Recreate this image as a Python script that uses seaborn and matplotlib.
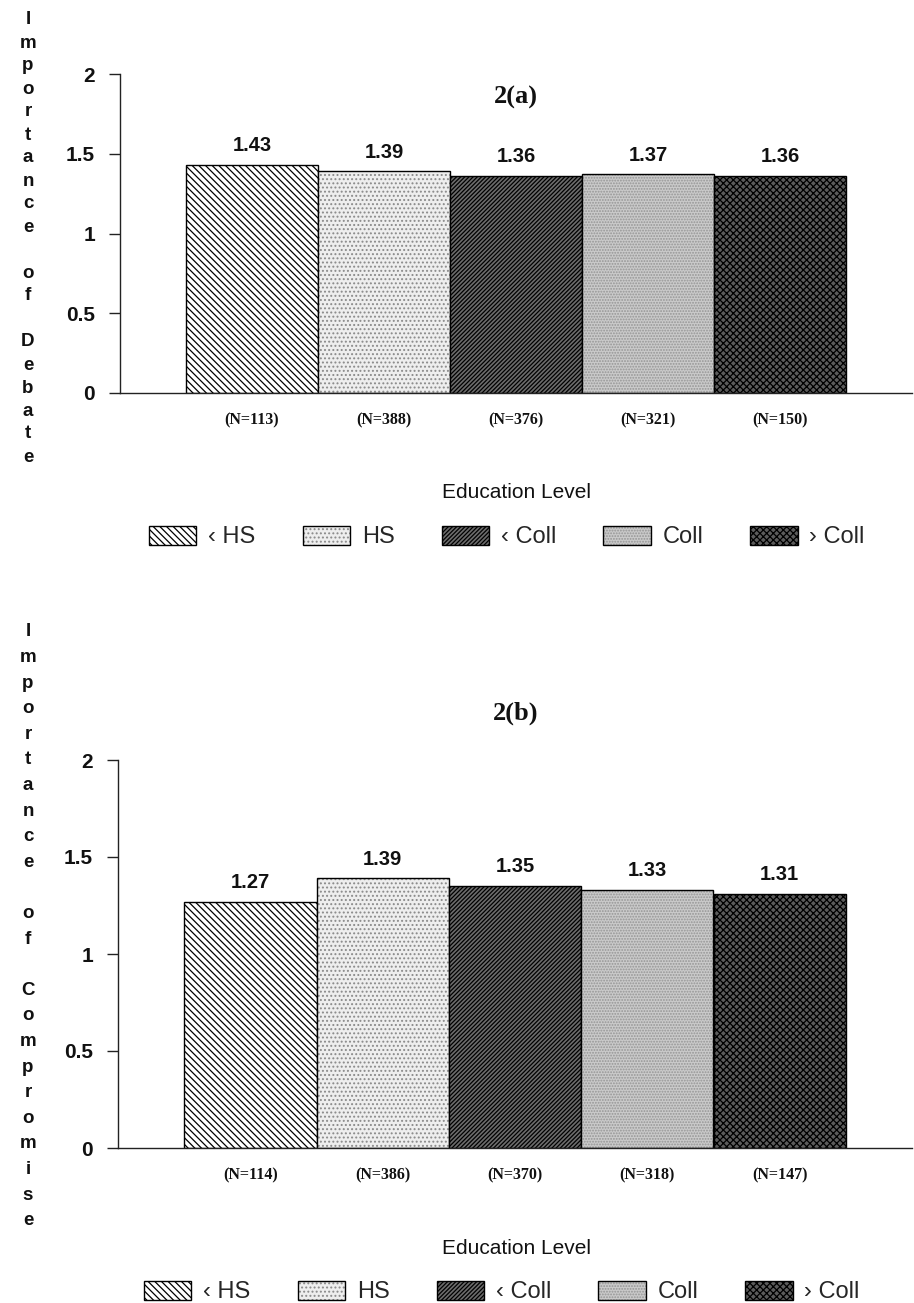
import matplotlib
matplotlib.use("Agg")
import matplotlib.pyplot as plt
import matplotlib.patches as mpatches
import matplotlib.colors as mcolors
import seaborn as sns

# ---- data ----
categories = ["\u2039 HS", "HS", "\u2039 Coll", "Coll", "\u203a Coll"]
debate = [1.43, 1.39, 1.36, 1.37, 1.36]
compromise = [1.27, 1.39, 1.35, 1.33, 1.31]
n_debate = [113, 388, 376, 321, 150]
n_compromise = [114, 386, 370, 318, 147]
yticks = [0, 0.5, 1, 1.5, 2]
ytick_labels = ["0", "0.5", "1", "1.5", "2"]

# ---- styles ----
facecolors = ["#ffffff", "#eeeeee", "#6c6c6c", "#cacaca", "#5c5c5c"]
hatchcolors = ["#000000", "#8a8a8a", "#000000", "#959595", "#000000"]
hatches = ["\\\\\\\\\\", "....", "////////", "......", "xxxxx"]

sns.set_theme(style="white")
plt.rcParams["font.family"] = ["Liberation Sans", "DejaVu Sans"]
plt.rcParams["hatch.linewidth"] = 0.9

W, H = 914, 1303
fig = plt.figure(figsize=(W / 100, H / 100), dpi=100)


def set_hc(p, c):
    if hasattr(p, "set_hatchcolor"):
        p.set_hatchcolor(c)
    else:
        p._hatch_color = mcolors.to_rgba(c)


def fx(px):
    return px / W


def fy(py):
    return 1 - py / H


def panel(rect, values, ns, title, title_y, ylabel_words, y0, step, edu_y, leg_y, leg_x):
    ax = fig.add_axes(rect)
    sns.barplot(x=categories, y=values, hue=categories, palette=facecolors,
                order=categories, hue_order=categories, width=1.0, saturation=1,
                edgecolor="black", linewidth=1.0, legend=False, ax=ax)
    for p, h, hc in zip(ax.patches, hatches, hatchcolors):
        p.set_hatch(h)
        p.set_edgecolor("black")
        set_hc(p, hc)
    for i, v in enumerate(values):
        ax.annotate(f"{v:.2f}", xy=(i, v), xytext=(0, 7), textcoords="offset points",
                    ha="center", va="bottom", fontsize=14.5, fontweight="bold",
                    color="#111111")
    ax.set_xlim(-1, 5)
    ax.set_ylim(0, 2)
    ax.set_yticks(yticks)
    ax.set_yticklabels(ytick_labels, fontsize=15, fontweight="bold", color="#111111")
    ax.set_xticks(range(len(categories)))
    ax.set_xticklabels([f"(N={n})" for n in ns], family="Liberation Serif",
                       fontsize=11.5, fontweight="bold", color="#111111")
    ax.tick_params(axis="x", length=0, pad=14)
    ax.tick_params(axis="y", length=8, width=1, direction="out", pad=10, left=True,
                   color="#222222")
    for s in ["top", "right"]:
        ax.spines[s].set_visible(False)
    for s in ["left", "bottom"]:
        ax.spines[s].set_color("#222222")
        ax.spines[s].set_linewidth(1.0)
    ax.set_xlabel("")
    ax.set_ylabel("")
    ax.grid(False)

    fig.text(fx(516), fy(title_y), title, ha="center", va="center",
             family="Liberation Serif", fontsize=19, fontweight="bold", color="#111111")
    fig.text(fx(516), fy(edu_y), "Education Level", ha="center", va="center",
             fontsize=15, color="#111111")

    # stacked vertical y-label
    letters = []
    for k, w in enumerate(ylabel_words):
        if k > 0:
            letters.append("")
        letters.extend(list(w))
    for i, ch in enumerate(letters):
        if ch:
            fig.text(fx(28), fy(y0 + i * step), ch, ha="center", va="center",
                     fontsize=13.5, fontweight="bold", color="#111111")

    handles = [mpatches.Patch(facecolor=fc, edgecolor="black", hatch=h, linewidth=1.0,
                              label=c)
               for fc, h, c in zip(facecolors, hatches, categories)]
    leg = fig.legend(handles=handles, loc="center", ncol=5, frameon=False,
                     bbox_to_anchor=(fx(leg_x), fy(leg_y)), fontsize=17,
                     handlelength=2.0, handleheight=0.9, handletextpad=0.5,
                     columnspacing=2.0)
    for p, hc in zip(leg.get_patches(), hatchcolors):
        set_hc(p, hc)
    return ax


# top panel: axis x 120..912, y0 px 393, y2 px 74
panel([fx(120), fy(393), fx(912) - fx(120), fy(74) - fy(393)], debate, n_debate,
      "2(a)", 97, ["Importance", "of", "Debate"], 20, 23.0, 493, 537, 507)
# bottom panel: axis x 118..912, y0 px 1148, y2 px 760
panel([fx(118), fy(1148), fx(912) - fx(118), fy(760) - fy(1148)], compromise, n_compromise,
      "2(b)", 713, ["Importance", "of", "Compromise"], 632, 25.6, 1249, 1292, 502)

fig.savefig("out.png", dpi=100)
